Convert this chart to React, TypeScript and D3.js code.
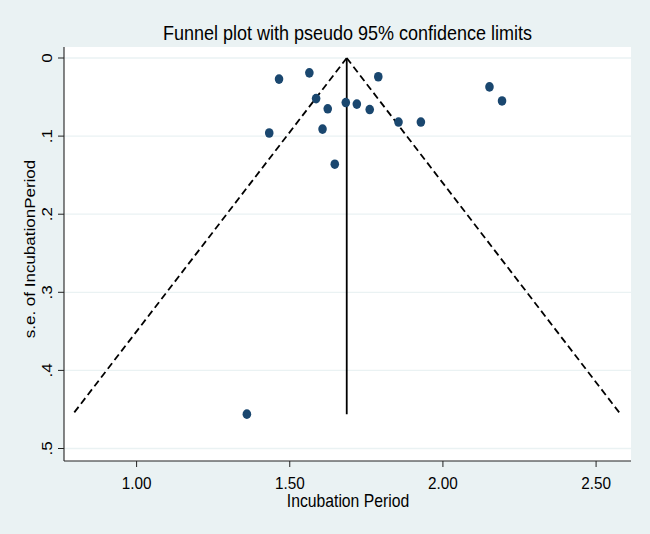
import React from "react";
import * as d3 from "d3";

// study estimates (incubation period) and their standard errors
const estimates = [1.465, 1.564, 1.789, 1.586, 1.624, 1.683, 1.719, 1.761, 1.433, 1.607, 1.855, 1.928, 1.647, 2.152, 2.193, 1.36];
const stdErrors = [0.027, 0.019, 0.024, 0.052, 0.065, 0.057, 0.059, 0.066, 0.096, 0.091, 0.082, 0.082, 0.136, 0.037, 0.055, 0.456];
const pooled = 1.686;
const xTicks = [1.0, 1.5, 2.0, 2.5];
const yTicks = [0, 0.1, 0.2, 0.3, 0.4, 0.5];

const W = 650;
const H = 534;
const plot = { left: 64, right: 631, top: 47, bottom: 461 };
const bg = "#eaf2f3";
const navy = "#1a476f";
const font = "'Liberation Sans', Arial, sans-serif";
// the original picture is a bit narrower than tall, so glyphs are squeezed sideways
const sq = 0.9;

const App = () => {
  const x = d3.scaleLinear().domain([0.763, 2.614]).range([plot.left, plot.right]);
  const y = d3.scaleLinear().domain([-0.0141, 0.516]).range([plot.top, plot.bottom]);

  const seMax = d3.max(stdErrors) as number;
  const funnel = d3
    .line<[number, number]>()
    .x((d) => x(d[0]))
    .y((d) => y(d[1]));
  const leftLimit: [number, number][] = [[pooled, 0], [pooled - 1.96 * seMax, seMax]];
  const rightLimit: [number, number][] = [[pooled, 0], [pooled + 1.96 * seMax, seMax]];

  return (
    <svg width={W} height={H} style={{ position: "absolute", left: 0, top: 0 }} fontFamily={font}>
      <rect width={W} height={H} fill={bg} />
      <rect x={plot.left} y={plot.top} width={plot.right - plot.left} height={plot.bottom - plot.top} fill="#fff" />

      {/* title */}
      <g transform={`translate(347.5,40) scale(${sq},1)`}>
        <text textAnchor="middle" fontSize={20} fill="#000">Funnel plot with pseudo 95% confidence limits</text>
      </g>

      {/* grid lines */}
      {yTicks.map((t) => (
        <line key={"g" + t} x1={plot.left} x2={plot.right} y1={y(t)} y2={y(t)} stroke={bg} strokeWidth={1.3} />
      ))}

      {/* axes */}
      <line x1={plot.left} x2={plot.left} y1={plot.top} y2={plot.bottom} stroke="#222" strokeWidth={1.1} />
      <line x1={plot.left} x2={plot.right} y1={plot.bottom} y2={plot.bottom} stroke="#222" strokeWidth={1.1} />
      {yTicks.map((t) => (
        <g key={"y" + t}>
          <line x1={plot.left - 6} x2={plot.left} y1={y(t)} y2={y(t)} stroke="#222" />
          <g transform={`translate(52,${y(t)}) rotate(-90) scale(1,${sq})`}>
            <text textAnchor="middle" fontSize={17} fill="#000">
              {t === 0 ? "0" : d3.format(".1f")(t).replace(/^0/, "")}
            </text>
          </g>
        </g>
      ))}
      {xTicks.map((t) => (
        <g key={"x" + t}>
          <line x1={x(t)} x2={x(t)} y1={plot.bottom} y2={plot.bottom + 6} stroke="#222" />
          <g transform={`translate(${x(t)},489) scale(${sq},1)`}>
            <text textAnchor="middle" fontSize={17} fill="#000">{d3.format(".2f")(t)}</text>
          </g>
        </g>
      ))}
      <g transform={`translate(348,507) scale(${sq},1)`}>
        <text textAnchor="middle" fontSize={17.5} fill="#000">Incubation Period</text>
      </g>
      <g transform={`translate(35,249) rotate(-90) scale(1,${sq})`}>
        <text textAnchor="middle" fontSize={17} fill="#000">s.e. of IncubationPeriod</text>
      </g>

      {/* funnel limits and pooled estimate */}
      <path d={funnel(leftLimit) ?? ""} fill="none" stroke="#000" strokeWidth={1.8} strokeDasharray="7,4" />
      <path d={funnel(rightLimit) ?? ""} fill="none" stroke="#000" strokeWidth={1.8} strokeDasharray="7,4" />
      <line x1={x(pooled)} x2={x(pooled)} y1={y(0)} y2={y(seMax)} stroke="#000" strokeWidth={1.8} />

      {/* studies */}
      {estimates.map((e, i) => (
        <ellipse key={i} cx={x(e)} cy={y(stdErrors[i])} rx={4.3} ry={4.8} fill={navy} />
      ))}
    </svg>
  );
};

export default App;
